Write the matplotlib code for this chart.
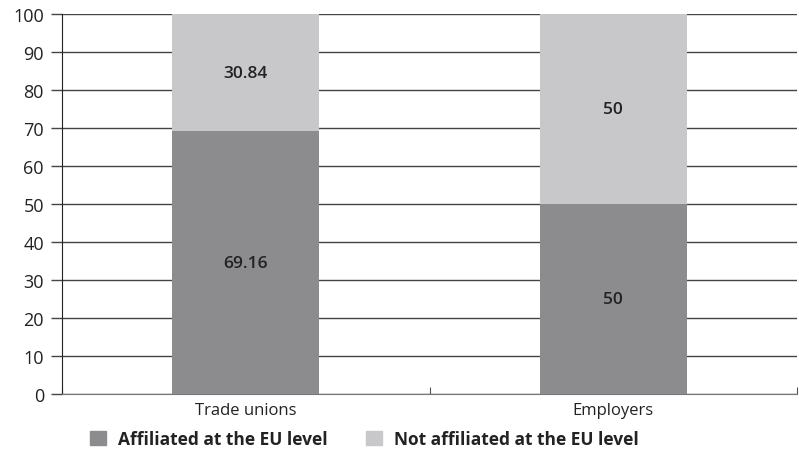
import matplotlib.pyplot as plt
import numpy as np
from matplotlib.patches import Patch

plt.rcParams['font.family'] = ['Open Sans', 'DejaVu Sans']

categories = ['Trade unions', 'Employers']
affiliated = [69.16, 50]
not_affiliated = [30.84, 50]
series_labels = ['Affiliated at the EU level', 'Not affiliated at the EU level']
colors = ['#8c8c8f', '#c8c8ca']

fig = plt.figure(figsize=(7.99, 4.56), dpi=100)
ax = fig.add_axes([0.0776, 0.1338, 0.92, 0.833])

x = np.arange(len(categories))
width = 0.4
b1 = ax.bar(x, affiliated, width, color=colors[0], zorder=3)
b2 = ax.bar(x, not_affiliated, width, bottom=affiliated, color=colors[1], zorder=3)

for rects, vals, bottoms in [(b1, affiliated, [0, 0]), (b2, not_affiliated, affiliated)]:
    for rect, v, b in zip(rects, vals, bottoms):
        ax.text(rect.get_x() + rect.get_width() / 2, b + v / 2, '{:g}'.format(v),
                ha='center', va='center', fontsize=12.5, weight='semibold',
                color='#222222', zorder=4)

ax.set_xlim(-0.5, 1.5)
ax.set_ylim(0, 100)
ax.set_yticks(np.arange(0, 101, 10))
ax.yaxis.grid(True, color='#444444', linewidth=1.0, zorder=0)
ax.tick_params(axis='y', length=8, width=1, color='#444444', labelsize=13, labelcolor='#222222', pad=5)

ax.set_xticks([-0.5, 0.5, 1.5])
ax.set_xticklabels([])
ax.set_xticks(x, minor=True)
ax.set_xticklabels(categories, minor=True)
ax.tick_params(axis='x', which='major', direction='in', length=5, color='#555555')
ax.tick_params(axis='x', which='minor', length=0, labelsize=12, labelcolor='#222222', pad=6)

for s in ['top', 'right']:
    ax.spines[s].set_visible(False)
ax.spines['left'].set_color('#222222')
ax.spines['bottom'].set_color('#777777')

handles = [Patch(color=c, label=l) for c, l in zip(colors, series_labels)]
leg = fig.legend(handles=handles, loc='center', bbox_to_anchor=(0.456, 0.035), ncol=2,
                 frameon=False, prop={'weight': 'bold', 'size': 12.5},
                 handlelength=0.9, handleheight=0.9, columnspacing=2.2, handletextpad=0.7)
for t in leg.get_texts():
    t.set_color('#222222')

fig.savefig('out.png', dpi=100)
